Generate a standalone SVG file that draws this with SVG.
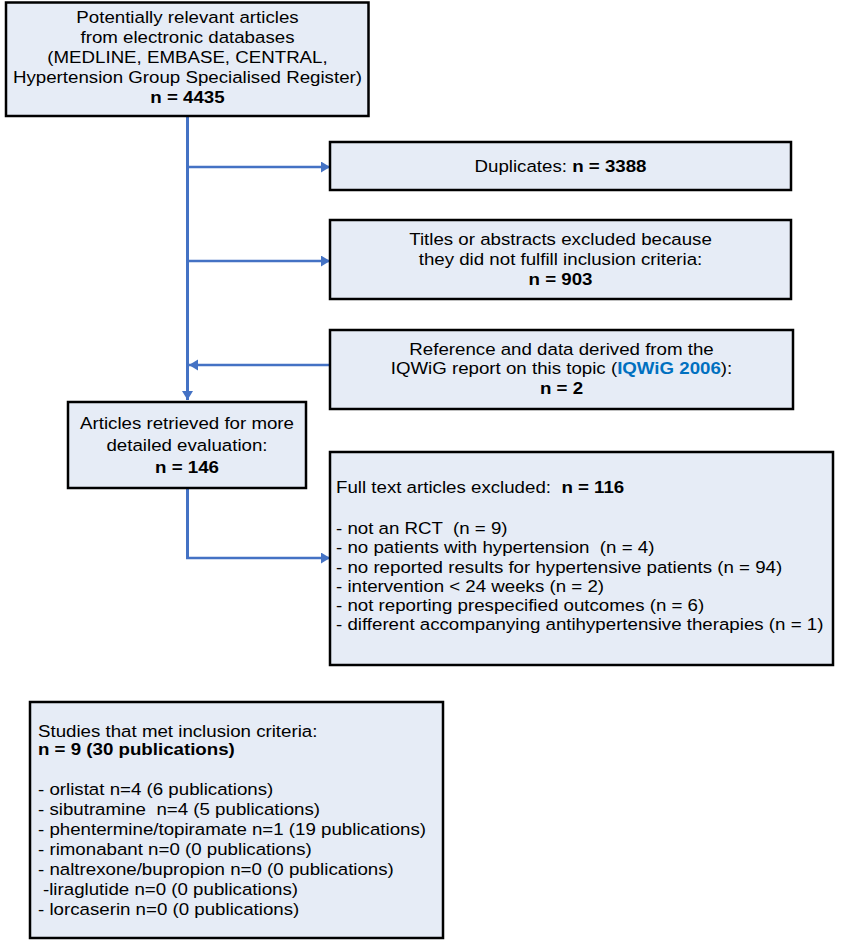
<svg xmlns="http://www.w3.org/2000/svg" width="844" height="941" viewBox="0 0 844 941">
  <style>
    .box { fill: #E6ECF6; stroke: #000000; stroke-width: 2.5; }
    text { font-family: "Liberation Sans", Arial, sans-serif; font-size: 17px; fill: #000000; white-space: pre; transform-box: fill-box; transform: scaleX(1.1); }
    .c { text-anchor: middle; transform-origin: 50% 50%; }
    .l { text-anchor: start; transform-origin: 0% 50%; }
    .b { font-weight: bold; }
    .link { font-weight: bold; fill: #0070C0; }
    .trunk { fill: none; stroke: #4472C4; stroke-width: 3; }
    .branch { fill: none; stroke: #4472C4; stroke-width: 2.5; }
  </style>
  <defs>
    <marker id="arrow" markerUnits="userSpaceOnUse" markerWidth="10" markerHeight="12" refX="9" refY="5.5" orient="auto">
      <path d="M0,0 L9,5.5 L0,11 Z" fill="#4472C4"/>
    </marker>
  </defs>

  <g id="connectors">
    <path class="trunk" d="M187.5,116 L187.5,400" marker-end="url(#arrow)"/>
    <path class="branch" d="M187.5,167 L330,167" marker-end="url(#arrow)"/>
    <path class="branch" d="M187.5,261 L330,261" marker-end="url(#arrow)"/>
    <path class="branch" d="M330,365 L189,365" marker-end="url(#arrow)"/>
    <path class="trunk" d="M187.5,488 L187.5,558"/>
    <path class="branch" d="M186,558 L330,558" marker-end="url(#arrow)"/>
  </g>

  <g id="node-identified">
    <rect class="box" x="6" y="2.5" width="362.5" height="113.5"/>
    <text class="c" x="187.5" y="23">Potentially relevant articles</text>
    <text class="c" x="187.5" y="43">from electronic databases</text>
    <text class="c" x="187.5" y="63">(MEDLINE, EMBASE, CENTRAL,</text>
    <text class="c" x="187.5" y="83">Hypertension Group Specialised Register)</text>
    <text class="c b" x="187.5" y="103">n = 4435</text>
  </g>

  <g id="node-duplicates">
    <rect class="box" x="330" y="142" width="461" height="48"/>
    <text class="c" x="560.5" y="172">Duplicates: <tspan class="b">n = 3388</tspan></text>
  </g>

  <g id="node-titles">
    <rect class="box" x="330" y="220" width="461" height="79"/>
    <text class="c" x="560.5" y="245">Titles or abstracts excluded because</text>
    <text class="c" x="560.5" y="265">they did not fulfill inclusion criteria:</text>
    <text class="c b" x="560.5" y="285">n = 903</text>
  </g>

  <g id="node-iqwig">
    <rect class="box" x="330" y="330" width="463" height="79"/>
    <text class="c" x="561.5" y="355">Reference and data derived from the</text>
    <text class="c" x="561.5" y="374.5">IQWiG report on this topic (<tspan class="link">IQWiG 2006</tspan>):</text>
    <text class="c b" x="561.5" y="394">n = 2</text>
  </g>

  <g id="node-retrieved">
    <rect class="box" x="68" y="402" width="238" height="86"/>
    <text class="c" x="187" y="429">Articles retrieved for more</text>
    <text class="c" x="187" y="451">detailed evaluation:</text>
    <text class="c b" x="187" y="473">n = 146</text>
  </g>

  <g id="node-fulltext-excluded">
    <rect class="box" x="330" y="452" width="503" height="213"/>
    <text class="l" x="336" y="493">Full text articles excluded:  <tspan class="b">n = 116</tspan></text>
    <text class="l" x="336" y="534">- not an RCT  (n = 9)</text>
    <text class="l" x="336" y="553.3">- no patients with hypertension  (n = 4)</text>
    <text class="l" x="336" y="572.6">- no reported results for hypertensive patients (n = 94)</text>
    <text class="l" x="336" y="591.9">- intervention &lt; 24 weeks (n = 2)</text>
    <text class="l" x="336" y="611.2">- not reporting prespecified outcomes (n = 6)</text>
    <text class="l" x="336" y="630.5">- different accompanying antihypertensive therapies (n = 1)</text>
  </g>

  <g id="node-included">
    <rect class="box" x="30" y="702" width="413" height="236"/>
    <text class="l" x="38" y="737">Studies that met inclusion criteria:</text>
    <text class="l b" x="38" y="755">n = 9 (30 publications)</text>
    <text class="l" x="38" y="795">- orlistat n=4 (6 publications)</text>
    <text class="l" x="38" y="815">- sibutramine  n=4 (5 publications)</text>
    <text class="l" x="38" y="835">- phentermine/topiramate n=1 (19 publications)</text>
    <text class="l" x="38" y="855">- rimonabant n=0 (0 publications)</text>
    <text class="l" x="38" y="875">- naltrexone/bupropion n=0 (0 publications)</text>
    <text class="l" x="43" y="895">-liraglutide n=0 (0 publications)</text>
    <text class="l" x="38" y="915">- lorcaserin n=0 (0 publications)</text>
  </g>
</svg>
